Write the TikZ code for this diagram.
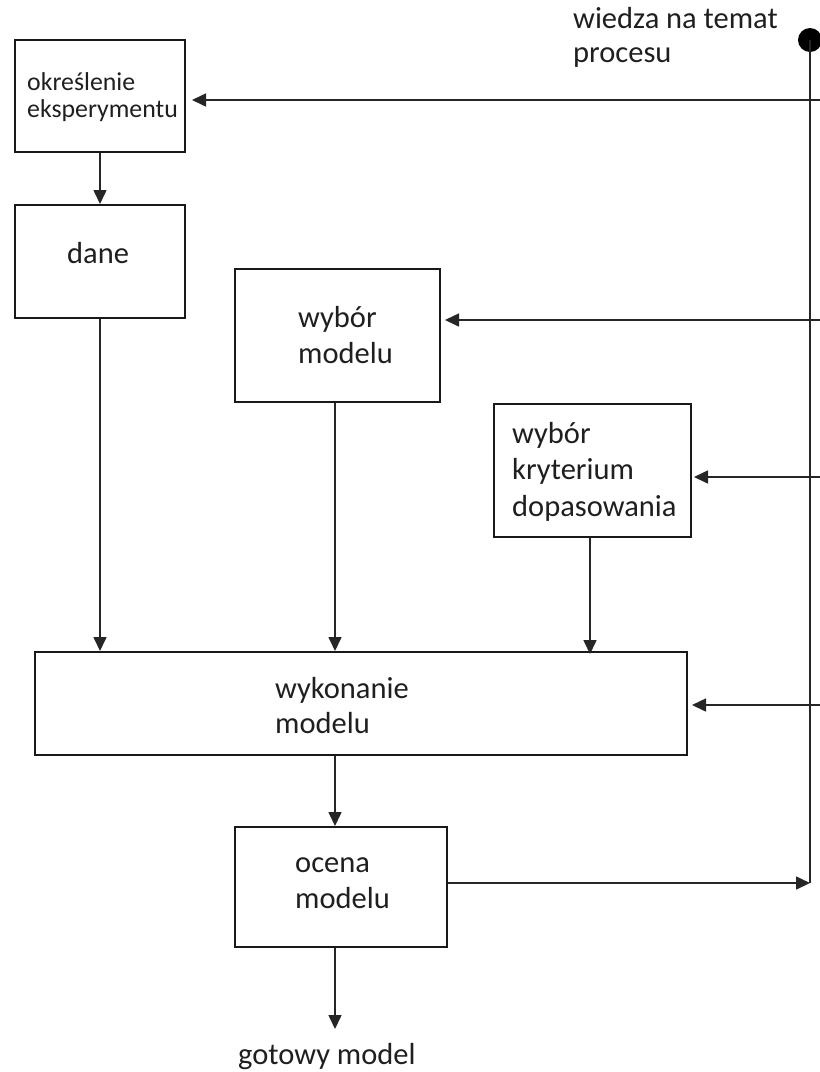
\documentclass[tikz,border=0pt]{standalone}
\usepackage{fontspec}
\setmainfont{Carlito}
\usetikzlibrary{arrows.meta,calc}
\tikzset{
  box/.style={draw=black!90, line width=2pt, rectangle, inner sep=0pt},
  conn/.style={draw=black!85, line width=1.6pt},
  arr/.style={conn, -{Triangle[length=14pt,width=13pt]}},
  txt/.style={text=black!88, anchor=base west, align=left, inner sep=0pt, font=\fontsize{30.5}{35.5}\selectfont},
}
\begin{document}
\begin{tikzpicture}[x=1pt,y=-1pt]
\useasboundingbox (0,0) rectangle (820,1072);
% boxes
\node[box, minimum width=170pt, minimum height=112pt] (okr) at (100,96) {};
\node[box, minimum width=170pt, minimum height=113pt] (dane) at (100,261.5) {};
\node[box, minimum width=205pt, minimum height=133pt] (wmod) at (337.5,335.5) {};
\node[box, minimum width=197pt, minimum height=133pt] (kryt) at (592.5,470.5) {};
\node[box, minimum width=652pt, minimum height=103pt] (wyk) at (361,703.5) {};
\node[box, minimum width=212pt, minimum height=120pt] (ocena) at (341,887) {};
% texts (anchor = baseline of last line)
\node[txt, font=\fontsize{25.8}{27}\selectfont] (tokr) at (27,117) {określenie\\eksperymentu};
\node[txt] (tdane) at (67,263) {dane};
\node[txt, font=\fontsize{30.5}{36}\selectfont] (twmod) at (298,363) {wybór\\modelu};
\node[txt, font=\fontsize{30.5}{36.5}\selectfont] (tkryt) at (512,516) {wybór\\kryterium\\dopasowania};
\node[txt, font=\fontsize{30.5}{35}\selectfont] (twyk) at (275,733) {wykonanie\\modelu};
\node[txt, font=\fontsize{30.5}{36}\selectfont] (tocena) at (295,908) {ocena\\modelu};
\node[txt] (gotowy) at (238,1064) {gotowy model};
\node[txt, font=\fontsize{30.5}{34}\selectfont] (wiedza) at (573,62) {wiedza na temat\\procesu};
% right-hand knowledge line
\coordinate (dot) at (810,40);
\coordinate (corner) at (810,883);
\coordinate (r1) at (820,100);
\coordinate (r2) at (820,320);
\coordinate (r3) at (820,477);
\coordinate (r4) at (820,705);
\coordinate (gend) at (335,1029);
\fill[black] (dot) circle (12pt);
\draw[conn] (dot) -- (corner);
\draw[arr, shorten >=6pt] (r1) -- (r1 -| okr.east);
\draw[arr, shorten >=4pt] (r2) -- (r2 -| wmod.east);
\draw[arr, shorten >=2pt] (r3) -- (r3 -| kryt.east);
\draw[arr, shorten >=4pt] (r4) -- (r4 -| wyk.east);
\draw[arr] (ocena.east |- corner) -- (corner);
% vertical flow
\draw[arr] (okr) -- (dane);
\draw[arr] (dane.south) -- (dane.south |- wyk.north);
\draw[arr] (wmod.south -| gend) -- (wyk.north -| gend);
\draw[arr, shorten >=-3pt] (kryt.south -| 590,0) -- (wyk.north -| 590,0);
\draw[arr] (wyk.south -| gend) -- (ocena.north -| gend);
\draw[arr] (ocena.south -| gend) -- (gend);
\end{tikzpicture}
\end{document}
